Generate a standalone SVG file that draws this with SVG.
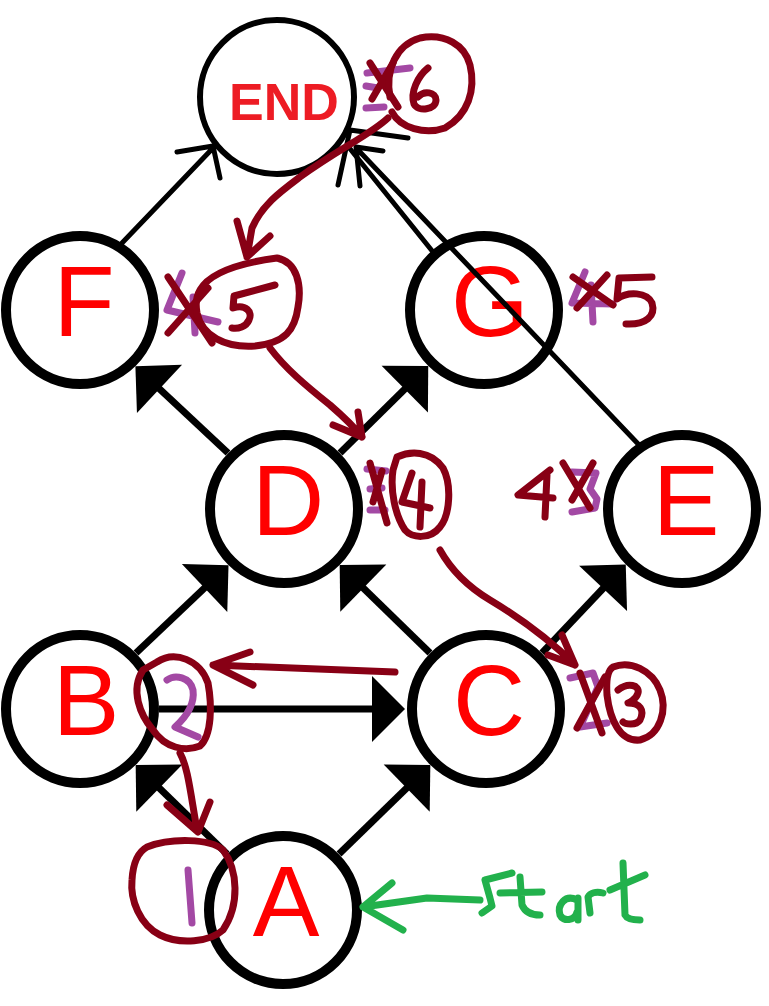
<svg xmlns="http://www.w3.org/2000/svg" width="769" height="1006" viewBox="0 0 769 1006">
<style>
.node{fill:#fff;stroke:#000;stroke-width:10}
.endnode{fill:#fff;stroke:#000;stroke-width:6}
.lbl{font-family:"Liberation Sans",Arial,sans-serif;font-size:100px;fill:#ff0000;text-anchor:middle}
.endlbl{font-family:"Liberation Sans",Arial,sans-serif;font-size:52px;font-weight:bold;fill:#ed1c24;text-anchor:middle}
.edge{stroke:#000;stroke-width:7;fill:none;marker-end:url(#ah)}
.thin{stroke:#000;stroke-width:5;fill:none;stroke-linecap:round;stroke-linejoin:round}
.red{stroke:#880015;stroke-width:7;fill:none;stroke-linecap:round;stroke-linejoin:round}
.pur{stroke:#a349a4;stroke-width:7;fill:none;stroke-linecap:round;stroke-linejoin:round}
.grn{stroke:#22b14c;stroke-width:7;fill:none;stroke-linecap:round;stroke-linejoin:round}
</style>
<defs>
<marker id="ah" markerUnits="userSpaceOnUse" markerWidth="80" markerHeight="80" viewBox="-40 -40 80 80" refX="0" refY="0" orient="auto">
<path d="M-13,-33 L20,0 L-13,33 Z" fill="#000"/>
</marker>
</defs>
<rect width="769" height="1006" fill="#fff"/>

<g id="node-END"><circle class="endnode" cx="277" cy="97" r="77"/><text class="endlbl" x="284" y="120">END</text></g>
<g id="node-F"><circle class="node" cx="80" cy="310" r="74"/><text class="lbl" x="84" y="336">F</text></g>
<g id="node-G"><circle class="node" cx="484" cy="310" r="74"/><text class="lbl" x="490" y="336">G</text></g>
<g id="node-D"><circle class="node" cx="284" cy="509" r="74"/><text class="lbl" x="288" y="535">D</text></g>
<g id="node-E"><circle class="node" cx="682" cy="509" r="74"/><text class="lbl" x="686" y="535">E</text></g>
<g id="node-B"><circle class="node" cx="80" cy="709" r="74"/><text class="lbl" x="86" y="735">B</text></g>
<g id="node-C"><circle class="node" cx="486" cy="709" r="74"/><text class="lbl" x="489" y="735">C</text></g>
<g id="node-A"><circle class="node" cx="283" cy="910" r="74"/><text class="lbl" x="286" y="936">A</text></g>

<g id="connectors">
<line class="edge" x1="227" y1="854" x2="150" y2="779"/>
<line class="edge" x1="339" y1="854" x2="416" y2="779"/>
<line class="edge" x1="159" y1="709" x2="385" y2="709"/>
<line class="edge" x1="136" y1="653" x2="214" y2="579"/>
<line class="edge" x1="430" y1="653" x2="354" y2="579"/>
<line class="edge" x1="542" y1="653" x2="612" y2="579"/>
<line class="edge" x1="228" y1="453" x2="150" y2="380"/>
<line class="edge" x1="340" y1="453" x2="414" y2="380"/>
<path class="thin" d="M122,243 L213,148 M177,152 L213,146 L220,178"/>
<path class="thin" d="M433,252 L347,145 M338,185 L350,130 L408,138"/>
<path class="thin" d="M642,448 L360,152 M360,186 L356,147 L383,151"/>
</g>

<g id="annotations">
<g id="ann-end">
<path class="pur" d="M367,73 L410,68 M366,86 L378,88 M366,108 L384,107"/>
<path class="red" d="M370,63 L398,107 M393,63 L372,99"/>
<path class="red" d="M428,68 C418,76 410,92 414,104 C418,112 436,110 436,100 C436,92 424,90 418,97"/>
<path class="red" d="M390,97 C385,70 396,45 420,38 C445,33 465,45 470,65 C476,90 468,115 445,128 C425,135 400,128 392,112"/>
<path class="red" d="M388,118 C370,135 340,148 300,177 C280,192 262,205 252,228 L247,257 M237,221 L247,257 L270,236"/>
</g>
<g id="ann-F">
<path class="pur" d="M182,273 L167,310 L218,322 M193,297 L195,333"/>
<path class="red" d="M168,277 L212,343 M208,288 L168,333"/>
<path class="red" d="M200,290 C210,272 240,263 277,258 C297,262 302,285 298,307 C295,330 285,343 255,346 C225,348 202,336 197,313 C195,302 197,295 200,290 Z"/>
<path class="red" d="M275,285 L234,296 L233,308 C246,304 253,312 249,320 C246,327 238,329 232,328"/>
<path class="red" d="M270,348 C285,368 305,385 330,405 C345,418 355,428 362,437 M333,425 L362,437 L358,412"/>
</g>
<g id="ann-G">
<path class="pur" d="M585,272 L572,303 L613,304 M591,285 L593,322"/>
<path class="red" d="M573,277 L613,305 M607,275 L577,308"/>
<path class="red" d="M652,277 L619,278 L617,299 C628,291 647,292 652,303 C656,316 646,325 626,324"/>
</g>
<g id="ann-D">
<path class="pur" d="M367,469 L386,471 M370,489 L382,488 M370,510 L385,510"/>
<path class="red" d="M370,463 L387,523 M382,471 L373,502"/>
<path class="red" d="M397,457 C410,451 430,450 443,468 C452,485 450,515 440,527 C430,540 412,538 405,530 C395,515 390,490 393,470 Z"/>
<path class="red" d="M412,473 L402,502 L430,508 M422,482 L420,527"/>
<path class="red" d="M440,550 C450,568 465,585 490,600 C515,615 545,635 575,665 M548,655 L575,665 L562,635"/>
</g>
<g id="ann-E">
<path class="red" d="M550,470 L518,495 L553,498 M547,475 L545,517"/>
<path class="pur" d="M572,472 L596,473 L590,489 L597,499 L595,508 L572,512"/>
<path class="red" d="M563,463 L590,508 M593,463 L572,500"/>
</g>
<g id="ann-C">
<path class="pur" d="M570,678 L593,673 L598,687 L580,727 L607,723"/>
<path class="red" d="M580,673 L602,733 M605,677 L577,728"/>
<path class="red" d="M613,667 C630,660 652,670 660,690 C668,710 660,735 640,740 C620,742 610,720 607,695 C606,680 608,670 613,667 Z"/>
<path class="red" d="M618,690 C628,682 640,685 638,693 C636,700 628,703 628,703 C640,703 645,710 640,720 C636,726 625,724 623,722"/>
<path class="red" d="M395,672 L213,665 M250,652 L213,665 L253,685"/>
</g>
<g id="ann-B">
<path class="red" d="M157,662 C175,650 200,660 208,683 C212,705 212,735 200,746 C185,752 165,748 153,730 C140,715 130,690 143,670 Z"/>
<path class="pur" d="M167,680 C175,674 190,677 193,690 C195,705 185,718 175,727 L198,737"/>
<path class="red" d="M180,753 C188,768 190,790 197,830 M167,805 L198,832 L210,802"/>
</g>
<g id="ann-A">
<path class="red" d="M147,847 C170,838 210,838 223,850 C238,870 240,905 223,930 C210,942 180,945 160,935 C140,925 130,900 132,880 C133,862 138,852 147,847 Z"/>
<path class="pur" d="M188,870 L192,923"/>
</g>
<g id="ann-start">
<path class="grn" d="M480,900 L427,898 L363,907 M392,883 L363,907 L403,930"/>
<path class="grn" d="M512,873 L485,880 L490,898 L492,906 L482,913"/>
<path class="grn" d="M520,877 L522,905 C525,912 532,915 540,915 M500,893 L542,892"/>
<path class="grn" d="M577,900 C565,894 557,905 560,915 C563,922 575,921 577,912 M578,898 L578,920"/>
<path class="grn" d="M590,913 L588,897 C590,893 596,891 603,893"/>
<path class="grn" d="M623,863 L625,915 C627,919 633,920 640,920 M610,890 L645,875"/>
</g>
</g>
</svg>
